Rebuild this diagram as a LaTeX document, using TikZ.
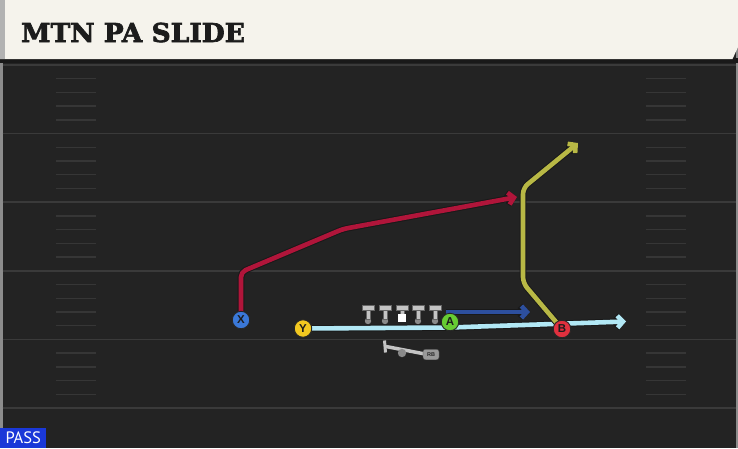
\documentclass[tikz,border=0pt]{standalone}
\usepackage{fontspec}
\setmainfont{Liberation Sans}
\newfontfamily\titlefont[FakeBold=2.5,FakeStretch=1.02]{DejaVu Serif Bold}
\newfontfamily\passfont{PT Sans}
\usetikzlibrary{arrows.meta}
\pgfdeclarelayer{bg}
\pgfdeclarelayer{routes}
\pgfsetlayers{bg,routes,main}
\definecolor{field}{HTML}{232323}
\definecolor{yardcol}{HTML}{3A3A3A}
\definecolor{hashcol}{HTML}{363636}
\definecolor{cream}{HTML}{F5F3EC}
\definecolor{titlecol}{HTML}{1C1C1C}
\definecolor{xblue}{HTML}{3A78D8}
\definecolor{yyellow}{HTML}{F2C820}
\definecolor{agreen}{HTML}{66CC33}
\definecolor{bred}{HTML}{E0303E}
\definecolor{rred}{HTML}{B0153A}
\definecolor{rcyan}{HTML}{B2E8F5}
\definecolor{rblue}{HTML}{2D4F9E}
\definecolor{rolive}{HTML}{B8B845}
\definecolor{olgray}{HTML}{C4C4C4}
\definecolor{oldark}{HTML}{8A8A8A}
\definecolor{passblue}{HTML}{1A38D8}
\begin{document}
\begin{tikzpicture}[x=1pt,y=-1pt,
  player/.style={circle,minimum size=17.5pt,inner sep=0pt,draw=black!85,line width=0.9pt,
    font=\bfseries\fontsize{11.5}{11.5}\selectfont,text=titlecol},
  route/.style={draw=#1,line width=4.6pt,line join=round,
    preaction={draw=black!90,line width=6.6pt},
    -{Straight Barb[length=5.5pt,width=12pt,line join=miter]}},
  yard/.style={draw=yardcol,line width=1.6pt},
  hash/.style={draw=hashcol,line width=1.4pt},
  olbar/.style={fill=olgray,draw=black!60,line width=0.4pt},
]
\useasboundingbox (0,0) rectangle (738,448);
\begin{pgfonlayer}{bg}
  % field
  \fill[field] (0,0) rectangle (738,448);
  \fill[black!45] (0,59) rectangle (2.5,448);
  \fill[black!45] (735.5,47) rectangle (738,448);
  \foreach \k in {0,...,5} \draw[yard] (2.5,65+68.6*\k) -- (735.5,65+68.6*\k);
  \foreach \k in {0,...,4} {
    \foreach \j in {1,...,4} {
      \draw[hash] (56,65+68.6*\k+13.7*\j) -- (96,65+68.6*\k+13.7*\j);
      \draw[hash] (646,65+68.6*\k+13.7*\j) -- (686,65+68.6*\k+13.7*\j);
    }
  }
  % header
  \fill[black!90] (0,58) rectangle (738,62.5);
  \fill[cream] (0,0) -- (738,0) -- (738,47) -- (732.5,59) -- (0,59) -- cycle;
  \fill[black!30] (0,0) rectangle (4.5,59);
\end{pgfonlayer}

\node[anchor=base west,inner sep=0pt,text=titlecol,
  font=\titlefont\fontsize{26}{26}\selectfont] (title) at (21,42) {MTN PA SLIDE};

% players
\node[player,fill=xblue] (X) at (241,320) {X};
\node[player,fill=yyellow] (Y) at (303,328.5) {Y};
\node[player,fill=agreen] (A) at (450,322) {A};
\node[player,fill=bred] (B) at (562,329) {B};

% offensive line
\foreach \lx in {368,385,418,435} {
  \fill[oldark] (\lx,321) circle (3.2);
  \path[olbar] (\lx-2.3,309) rectangle (\lx+2.3,319.5);
  \path[olbar] (\lx-6,305) rectangle (\lx+6,310.5);
}
\path[olbar] (399.7,309) rectangle (404.3,315);
\path[olbar] (396,305) rectangle (408,310.5);
\fill[white] (398,314) rectangle (406,322);

% running back
\draw[olgray,line width=3.5pt] (386,346.5) -- (425,354);
\draw[olgray,line width=3pt] (384.5,340.5) -- (385.5,352.5);
\fill[oldark] (402,353) circle (4.2);
\node[fill=black!40,draw=black!70,line width=0.4pt,rounded corners=2.5pt,minimum width=16pt,minimum height=10.5pt,
  inner sep=0pt,text=black!85,font=\bfseries\fontsize{5.5}{5.5}\selectfont] (rb) at (431,354.5) {RB};

% routes
\coordinate (x1) at (241,272);
\coordinate (x2) at (343,229);
\coordinate (x3) at (517,197);
\coordinate (c1) at (450,327.5);
\coordinate (c3) at (626,321.5);
\coordinate (a0) at (446,312);
\coordinate (a1) at (530,312);
\coordinate (b1) at (523,283);
\coordinate (b2) at (523,188);
\coordinate (b3) at (578,143);
\begin{pgfonlayer}{routes}
  \draw[route=rcyan] (Y.center) -- (c1) -- (c3);
  \draw[route=rred,rounded corners=5pt] (X.center) -- (x1) -- (x2) -- (x3);
  \draw[route=rblue] (a0) -- (a1);
  \draw[route=rolive,rounded corners=6pt] (B.center) -- (b1) -- (b2) -- (b3);
\end{pgfonlayer}

% play type
\node[fill=passblue,text=white,anchor=south west,inner sep=0pt,minimum width=46pt,minimum height=20pt,
  font=\passfont\fontsize{16.5}{16.5}\selectfont] (pass) at (0,448) {PASS};
\end{tikzpicture}
\end{document}
